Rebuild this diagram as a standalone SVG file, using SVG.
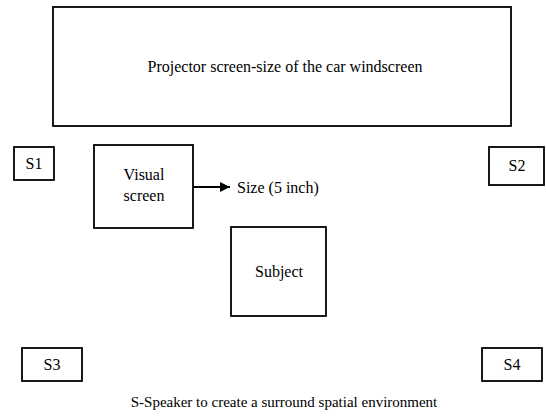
<svg xmlns="http://www.w3.org/2000/svg" width="546" height="417" viewBox="0 0 546 417">
  <style>
    .box { fill: #fff; stroke: #000; stroke-width: 1.8; }
    .lbl { font-family: "Liberation Serif", "Times New Roman", serif; font-size: 16px; fill: #000; text-anchor: middle; }
    .note { font-family: "Liberation Serif", "Times New Roman", serif; font-size: 16px; fill: #000; }
    .cap { font-family: "Liberation Serif", "Times New Roman", serif; font-size: 15px; fill: #000; text-anchor: middle; }
  </style>
  <defs>
    <marker id="head" viewBox="0 0 10 10" refX="10" refY="5" markerWidth="10" markerHeight="10" markerUnits="userSpaceOnUse" orient="auto">
      <path d="M0,0 L10,5 L0,10 z" fill="#000"/>
    </marker>
  </defs>
  <rect width="546" height="417" fill="#fff"/>

  <g id="projector">
    <rect class="box" x="53" y="7" width="458" height="119"/>
    <text class="lbl" x="285" y="72">Projector screen-size of the car windscreen</text>
  </g>

  <g id="s1">
    <rect class="box" x="14" y="147" width="40" height="33"/>
    <text class="lbl" x="34" y="169">S1</text>
  </g>

  <g id="visual-screen">
    <rect class="box" x="94" y="145" width="99" height="83"/>
    <text class="lbl" x="144" y="180">Visual</text>
    <text class="lbl" x="144" y="201">screen</text>
  </g>

  <g id="size-note">
    <text class="note" x="237" y="193">Size (5 inch)</text>
  </g>

  <g id="s2">
    <rect class="box" x="489" y="147" width="55" height="38"/>
    <text class="lbl" x="517" y="171">S2</text>
  </g>

  <g id="subject">
    <rect class="box" x="231" y="227" width="95" height="89"/>
    <text class="lbl" x="279" y="277">Subject</text>
  </g>

  <g id="s3">
    <rect class="box" x="22" y="348" width="60" height="33"/>
    <text class="lbl" x="52" y="370">S3</text>
  </g>

  <g id="s4">
    <rect class="box" x="482" y="348" width="60" height="33"/>
    <text class="lbl" x="512" y="370">S4</text>
  </g>

  <g id="caption">
    <text class="cap" x="284" y="407">S-Speaker to create a surround spatial environment</text>
  </g>

  <g id="connectors">
    <line x1="193" y1="187" x2="230" y2="187" stroke="#000" stroke-width="1.8" marker-end="url(#head)"/>
  </g>
</svg>
